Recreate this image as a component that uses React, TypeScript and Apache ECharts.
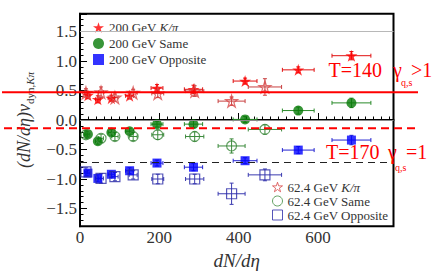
import React, { useEffect, useRef } from 'react';
import * as echarts from 'echarts';

// 200 GeV centrality bins (dN/dη) and horizontal error half-widths
const x200 = [20, 45, 79, 125, 194, 286, 416, 550, 684];
const xErr200 = [5, 6, 8, 10, 15, 23, 30, 40, 49];
// 62.4 GeV centrality bins
const x62 = [15, 53, 88, 134, 196, 289, 382, 466];
const xErr62 = [4, 6, 8, 10, 15, 23, 34, 42];

// 200 GeV values
const kpi200 = [0.42, 0.35, 0.37, 0.41, 0.54, 0.52, 0.66, 0.85, 1.09];
const kpi200Err = [0.06, 0.06, 0.05, 0.05, 0.06, 0.07, 0.05, 0.05, 0.07];
const same200 = [-0.24, -0.36, -0.21, -0.19, -0.07, -0.07, 0.01, 0.16, 0.29];
const same200Err = [0.05, 0.05, 0.05, 0.05, 0.05, 0.06, 0.05, 0.06, 0.08];
const opp200 = [-0.9, -0.99, -0.92, -0.86, -0.73, -0.8, -0.69, -0.51, -0.34];
const opp200Err = [0.05, 0.06, 0.05, 0.05, 0.05, 0.06, 0.05, 0.06, 0.08];

// 62.4 GeV values
const kpi62 = [0.46, 0.47, 0.38, 0.46, 0.45, 0.49, 0.32, 0.56];
const kpi62Err = [0.07, 0.09, 0.06, 0.06, 0.07, 0.09, 0.07, 0.14];
const same62 = [-0.25, -0.31, -0.28, -0.28, -0.25, -0.28, -0.44, -0.16];
const same62Err = [0.07, 0.07, 0.07, 0.07, 0.08, 0.08, 0.12, 0.08];
const opp62 = [-0.88, -0.99, -0.96, -0.93, -1.0, -1.0, -1.25, -0.93];
const opp62Err = [0.07, 0.08, 0.07, 0.07, 0.08, 0.08, 0.18, 0.1];

// reference lines
const grayLines = [1.5, 0.0];
const blackDashedLine = -0.72;
const redSolidLine = 0.47;
const redDashedLine = -0.14;

// axis ranges
const xRange = [0, 790];
const yRange = [-1.8, 1.8];

const SERIF = '"Liberation Serif", "Times New Roman", serif';
const STAR = 'path://M50,0 L61.2,34.5 L97.6,34.5 L68.2,55.9 L79.4,90.5 L50,69.1 L20.6,90.5 L31.8,55.9 L2.4,34.5 L38.8,34.5 Z';

type Def = {
  name: string;
  xs: number[];
  xe: number[];
  ys: number[];
  ye: number[];
  color: string;
  barColor: string;
  symbol: string;
  size: number;
  open: boolean;
};

const defs: Def[] = [
  { name: '200 GeV K/π', xs: x200, xe: xErr200, ys: kpi200, ye: kpi200Err, color: '#ff0000', barColor: '#e01010', symbol: STAR, size: 12, open: false },
  { name: '200 GeV Same', xs: x200, xe: xErr200, ys: same200, ye: same200Err, color: '#067a06', barColor: '#2a8a2a', symbol: 'circle', size: 10, open: false },
  { name: '200 GeV Opposite', xs: x200, xe: xErr200, ys: opp200, ye: opp200Err, color: '#0000ff', barColor: '#2323d0', symbol: 'rect', size: 9, open: false },
  { name: '62.4 GeV K/π', xs: x62, xe: xErr62, ys: kpi62, ye: kpi62Err, color: '#d84848', barColor: '#c84040', symbol: STAR, size: 12, open: true },
  { name: '62.4 GeV Same', xs: x62, xe: xErr62, ys: same62, ye: same62Err, color: '#3c8a3c', barColor: '#3c8a3c', symbol: 'circle', size: 10, open: true },
  { name: '62.4 GeV Opposite', xs: x62, xe: xErr62, ys: opp62, ye: opp62Err, color: '#2a2aa8', barColor: '#3a3ab0', symbol: 'rect', size: 10, open: true },
];

function markerStyle(d: Def) {
  return d.open
    ? { color: 'rgba(255,255,255,0)', borderColor: d.color, borderWidth: 1.2 }
    : { color: d.color, borderWidth: 0 };
}

function errorBarSeries(d: Def) {
  const data = d.xs.map((x, i) => [x, d.ys[i], d.xe[i], d.ye[i]]);
  return {
    type: 'custom',
    name: d.name + ' err',
    data,
    z: 2,
    silent: true,
    encode: { x: 0, y: 1 },
    renderItem: (params: any, api: any) => {
      const x = api.value(0);
      const y = api.value(1);
      const ex = api.value(2);
      const ey = api.value(3);
      const l = api.coord([x - ex, y]);
      const r = api.coord([x + ex, y]);
      const t = api.coord([x, y + ey]);
      const b = api.coord([x, y - ey]);
      const st = { stroke: d.barColor, lineWidth: 1 };
      const c = 2;
      return {
        type: 'group',
        children: [
          { type: 'line', shape: { x1: l[0], y1: l[1], x2: r[0], y2: r[1] }, style: st },
          { type: 'line', shape: { x1: t[0], y1: t[1], x2: b[0], y2: b[1] }, style: st },
          { type: 'line', shape: { x1: l[0], y1: l[1] - c, x2: l[0], y2: l[1] + c }, style: st },
          { type: 'line', shape: { x1: r[0], y1: r[1] - c, x2: r[0], y2: r[1] + c }, style: st },
          { type: 'line', shape: { x1: t[0] - c, y1: t[1], x2: t[0] + c, y2: t[1] }, style: st },
          { type: 'line', shape: { x1: b[0] - c, y1: b[1], x2: b[0] + c, y2: b[1] }, style: st },
        ],
      };
    },
  };
}

function markerSeries(d: Def, withLines: boolean) {
  const s: any = {
    type: 'scatter',
    name: d.name,
    data: d.xs.map((x, i) => [x, d.ys[i]]),
    symbol: d.symbol,
    symbolSize: d.size,
    z: 3,
    itemStyle: markerStyle(d),
  };
  if (withLines) {
    s.markLine = {
      silent: true,
      symbol: 'none',
      label: { show: false },
      animation: false,
      data: [
        ...grayLines.map((v, i) => ({
          yAxis: v,
          lineStyle: { color: i === 0 ? '#b8b8b8' : '#8a8a8a', width: 1, type: 'solid' },
        })),
        { yAxis: blackDashedLine, lineStyle: { color: '#222', width: 1.2, type: [7, 5] } },
      ],
    };
  }
  return s;
}

const legendFmt = (name: string) => name.replace('K/π', '{i|K/π}');
const legendText = (lh: number) => ({
  fontFamily: SERIF,
  fontSize: 13,
  color: '#333',
  lineHeight: lh,
  rich: { i: { fontFamily: SERIF, fontSize: 13, fontStyle: 'italic', color: '#333', lineHeight: lh } },
});

const legendData = (list: Def[]) =>
  list.map((d) => ({
    name: d.name,
    icon: d.symbol,
    itemStyle: d.open
      ? { color: 'rgba(255,255,255,0)', borderColor: d.color, borderWidth: 1 }
      : { color: d.color, borderWidth: 0 },
  }));

export default function App() {
  const ref = useRef<HTMLDivElement>(null);

  useEffect(() => {
    if (!ref.current) return;
    const chart = echarts.init(ref.current, null, { renderer: 'svg' });
    const series: any[] = [];
    defs.forEach((d) => series.push(errorBarSeries(d)));
    defs.forEach((d, i) => series.push(markerSeries(d, i === 0)));

    chart.setOption({
      animation: false,
      backgroundColor: '#ffffff',
      grid: {
        left: 80,
        right: 42.5,
        top: 13.8,
        bottom: 49.8,
        show: true,
        borderColor: '#000',
        borderWidth: 2,
        backgroundColor: 'rgba(0,0,0,0)',
      },
      legend: [
        {
          data: legendData(defs.slice(0, 3)),
          orient: 'vertical',
          left: 93,
          top: 20,
          padding: 0,
          itemWidth: 11,
          itemHeight: 11,
          itemGap: 1,
          formatter: legendFmt,
          textStyle: legendText(15),
          selectedMode: false,
        },
        {
          data: legendData(defs.slice(3)),
          orient: 'vertical',
          left: 272,
          top: 180,
          padding: 0,
          itemWidth: 10,
          itemHeight: 10,
          itemGap: 0,
          formatter: legendFmt,
          textStyle: legendText(14),
          selectedMode: false,
        },
      ],
      xAxis: {
        type: 'value',
        min: xRange[0],
        max: xRange[1],
        splitNumber: 4,
        name: 'dN/dη',
        nameLocation: 'middle',
        nameGap: 21,
        nameTextStyle: { fontFamily: SERIF, fontSize: 19, fontStyle: 'italic', color: '#333' },
        axisLine: { show: true, lineStyle: { color: '#000', width: 2 } },
        axisTick: { show: true, inside: true, length: 7, lineStyle: { color: '#000', width: 1 } },
        minorTick: { show: true, splitNumber: 10, length: 3.5, lineStyle: { color: '#000', width: 1 } },
        splitLine: { show: false },
        axisLabel: {
          fontFamily: SERIF,
          fontSize: 17,
          color: '#333',
          margin: 3,
          showMaxLabel: false,
          formatter: (v: number) => (v % 200 === 0 ? String(v) : ''),
        },
      },
      yAxis: {
        type: 'value',
        min: yRange[0],
        max: yRange[1],
        splitNumber: 7,
        name: '{a|(dN/dη)ν}{b|dyn,}{c|Kπ}',
        nameLocation: 'middle',
        nameGap: 32,
        nameTextStyle: {
          fontFamily: SERIF,
          fontSize: 18,
          color: '#333',
          rich: {
            a: { fontFamily: SERIF, fontSize: 18, fontStyle: 'italic', color: '#333', lineHeight: 22 },
            b: { fontFamily: SERIF, fontSize: 11, color: '#333', lineHeight: 8, verticalAlign: 'bottom' },
            c: { fontFamily: SERIF, fontSize: 11, fontStyle: 'italic', color: '#333', lineHeight: 8, verticalAlign: 'bottom' },
          },
        },
        axisLine: { show: true, lineStyle: { color: '#000', width: 2 } },
        axisTick: { show: true, inside: true, length: 7, lineStyle: { color: '#000', width: 1 } },
        minorTick: { show: true, splitNumber: 5, length: 3.5, lineStyle: { color: '#000', width: 1 } },
        splitLine: { show: false },
        axisLabel: {
          fontFamily: SERIF,
          fontSize: 17,
          color: '#333',
          margin: 3,
          formatter: (v: number) => {
            if (Math.abs(v * 2 - Math.round(v * 2)) > 1e-6) return '';
            if (Math.abs(v) > 1.75) return '';
            return (v < -1e-9 ? '−' : '') + Math.abs(v).toFixed(1);
          },
        },
      },
      series,
    });

    // overlays in pixel space derived from the axis scale
    const ySolid = chart.convertToPixel({ yAxisIndex: 0 }, redSolidLine) as number;
    const yDashed = chart.convertToPixel({ yAxisIndex: 0 }, redDashedLine) as number;
    const red = '#ff0000';
    const big = { fontFamily: SERIF, fontSize: 20, fill: red, verticalAlign: 'middle', align: 'left' };
    const small = { fontFamily: SERIF, fontSize: 10, fill: red, verticalAlign: 'middle', align: 'left' };
    chart.setOption({
      graphic: [
        { type: 'line', z: 100, shape: { x1: 2, y1: ySolid, x2: 418, y2: ySolid }, style: { stroke: red, lineWidth: 2 } },
        { type: 'line', z: 100, shape: { x1: 4, y1: yDashed, x2: 418, y2: yDashed }, style: { stroke: red, lineWidth: 2, lineDash: [8, 5] } },
        { type: 'text', z: 100, x: 328.5, y: 69.5, style: { ...big, text: 'T=140' } },
        { type: 'text', z: 100, x: 393, y: 69.5, style: { ...big, text: 'γ' } },
        { type: 'text', z: 100, x: 401, y: 82, style: { ...small, text: 'q,s' } },
        { type: 'text', z: 100, x: 411, y: 69.5, style: { ...big, text: '>1' } },
        { type: 'text', z: 100, x: 326, y: 151.5, style: { ...big, text: 'T=170' } },
        { type: 'text', z: 100, x: 388, y: 151.5, style: { ...big, text: 'γ' } },
        { type: 'text', z: 100, x: 395, y: 167, style: { ...small, text: 'q,s' } },
        { type: 'text', z: 100, x: 406, y: 151.5, style: { ...big, text: '=1' } },
      ],
    });

    return () => chart.dispose();
  }, []);

  return (
    <div
      ref={ref}
      style={{ position: 'fixed', left: 0, top: 0, width: 436, height: 276, background: '#fff' }}
    />
  );
}
